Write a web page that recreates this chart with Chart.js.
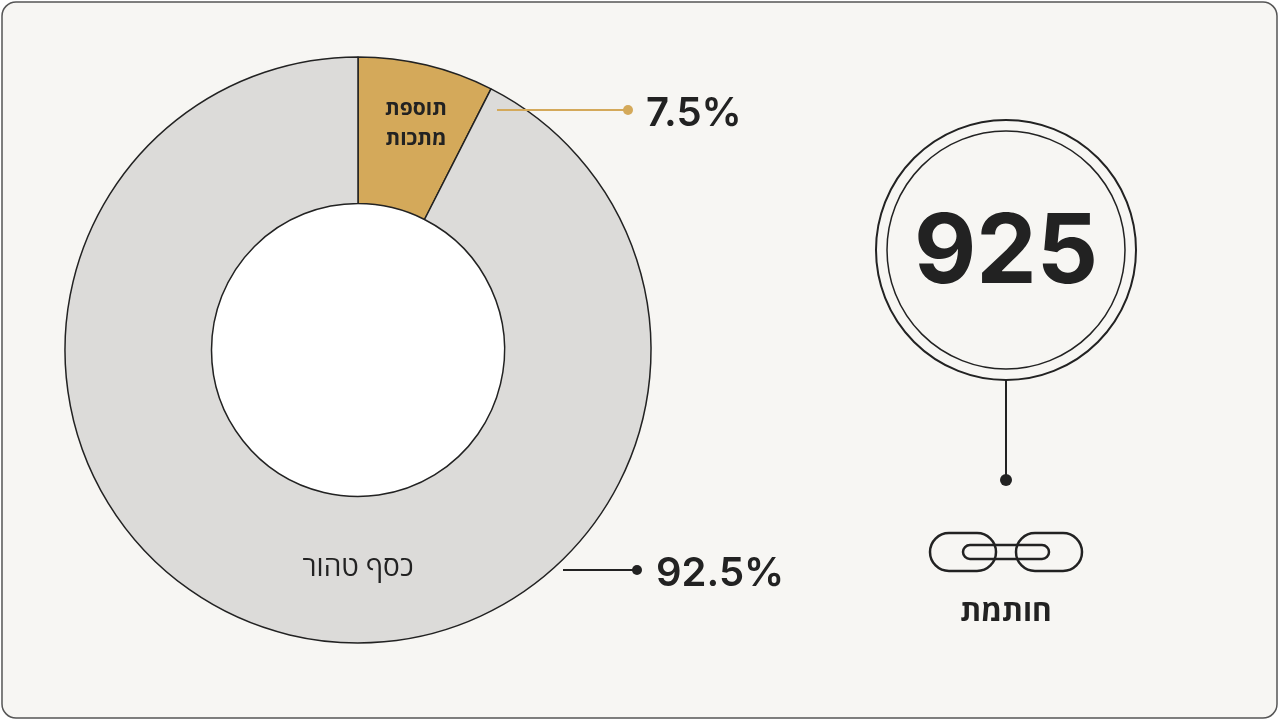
<!DOCTYPE html>
<html><head><meta charset="utf-8">
<script src="https://cdn.jsdelivr.net/npm/chart.js@4"></script>
<style>html,body{margin:0;background:#fff}canvas{display:block}</style>
</head><body>
<canvas id="c" width="1279" height="720"></canvas>
<script>
const categories = ["תוספת מתכות", "כסף טהור"];
const values = [7.5, 92.5];
const valueLabels = ["7.5%", "92.5%"];
const stampText = "925";
const stampLabel = "חותמת";
const colors = ["#d4a95a", "#dcdbd9"];
const F = '"Open Sans","Noto Sans",sans-serif';
const FL = 'Inter,"Open Sans",sans-serif';

const deco = {
  id: 'deco',
  beforeDraw(ch) {
    const c = ch.ctx; c.save();
    c.fillStyle = '#f7f6f3';
    c.strokeStyle = '#555'; c.lineWidth = 1.5;
    c.beginPath(); c.roundRect(2, 2, 1275, 716, 14); c.fill(); c.stroke();
    c.fillStyle = '#ffffff';
    c.beginPath(); c.arc(358, 350, 146, 0, 7); c.fill();
    c.restore();
  },
  afterDraw(ch) {
    const c = ch.ctx; c.save();
    c.fillStyle = '#222'; c.textAlign = 'center'; c.textBaseline = 'middle';
    c.font = 'bold 21px ' + F;
    c.fillText('תוספת', 416, 109); c.fillText('מתכות', 416, 139);
    c.font = '500 28px ' + F;
    c.fillText(categories[1], 358, 568);
    c.strokeStyle = '#d4a95a'; c.fillStyle = '#d4a95a'; c.lineWidth = 2;
    c.beginPath(); c.moveTo(497, 110); c.lineTo(628, 110); c.stroke();
    c.beginPath(); c.arc(628, 110, 5, 0, 7); c.fill();
    c.strokeStyle = '#222'; c.fillStyle = '#222';
    c.beginPath(); c.moveTo(563, 570); c.lineTo(637, 570); c.stroke();
    c.beginPath(); c.arc(637, 570, 5, 0, 7); c.fill();
    c.textAlign = 'left'; c.font = '600 40px ' + FL;
    c.fillText(valueLabels[0], 646, 114);
    c.fillText(valueLabels[1], 656, 574);
    c.lineWidth = 2; c.fillStyle = '#f7f6f3';
    c.beginPath(); c.arc(1006, 250, 130, 0, 7); c.fill(); c.stroke();
    c.lineWidth = 1.5;
    c.beginPath(); c.arc(1006, 250, 119, 0, 7); c.stroke();
    c.fillStyle = '#222'; c.textAlign = 'center';
    c.font = 'bold 96px ' + FL;
    c.fillText(stampText, 1006, 254);
    c.lineWidth = 2;
    c.beginPath(); c.moveTo(1006, 380); c.lineTo(1006, 480); c.stroke();
    c.beginPath(); c.arc(1006, 480, 6, 0, 7); c.fill();
    c.lineWidth = 2.5;
    c.beginPath(); c.roundRect(930, 533, 66, 38, 19); c.stroke();
    c.beginPath(); c.roundRect(1016, 533, 66, 38, 19); c.stroke();
    c.beginPath(); c.roundRect(963, 545, 86, 14, 7); c.stroke();
    c.font = 'bold 30px ' + F;
    c.fillText(stampLabel, 1006, 612);
    c.restore();
  }
};

new Chart(document.getElementById('c'), {
  type: 'doughnut',
  data: { labels: categories, datasets: [{ data: values, backgroundColor: colors, borderColor: '#222', borderWidth: 1.5 }] },
  options: {
    responsive: false, animation: false, radius: 293, cutout: '50%',
    layout: { padding: { left: 0, right: 563, top: 0, bottom: 20 } },
    plugins: { legend: { display: false }, tooltip: { enabled: false } }
  },
  plugins: [deco]
});
</script>
</body></html>
